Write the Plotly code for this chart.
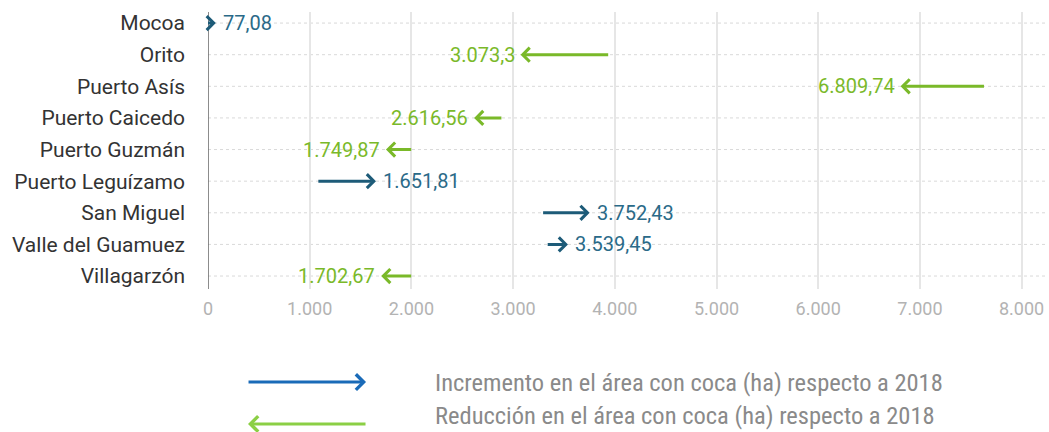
import plotly.graph_objects as go

municipios = ["Mocoa", "Orito", "Puerto Asís", "Puerto Caicedo", "Puerto Guzmán",
              "Puerto Leguízamo", "San Miguel", "Valle del Guamuez", "Villagarzón"]
area_2018 = [0, 3935, 7630, 2885, 1998, 1085, 3295, 3340, 1998]
area_2019 = [77.08, 3073.3, 6809.74, 2616.56, 1749.87, 1651.81, 3752.43, 3539.45, 1702.67]
labels_2019 = ["77,08", "3.073,3", "6.809,74", "2.616,56", "1.749,87",
               "1.651,81", "3.752,43", "3.539,45", "1.702,67"]
x_ticks = [0, 1000, 2000, 3000, 4000, 5000, 6000, 7000, 8000]
x_tick_labels = ["0", "1.000", "2.000", "3.000", "4.000", "5.000", "6.000", "7.000", "8.000"]
legend_labels = ["Incremento en el área con coca (ha) respecto a 2018",
                 "Reducción en el área con coca (ha) respecto a 2018"]

UP_LINE = "#1d5b78"
UP_TEXT = "#2a6a88"
DOWN = "#7ab929"

rows = list(range(len(municipios)))

fig = go.Figure()
fig.add_trace(go.Scatter(x=area_2019, y=rows, mode="markers",
                         marker=dict(opacity=0), hoverinfo="skip", showlegend=False))

for r in rows:
    fig.add_shape(type="line", xref="paper", yref="y", x0=0, x1=1, y0=r, y1=r,
                  line=dict(color="#d9d9d9", width=1, dash="dot"), layer="below")

annotations = []
for r, (a, b, lab) in enumerate(zip(area_2018, area_2019, labels_2019)):
    up = b > a
    col = UP_LINE if up else DOWN
    annotations.append(dict(
        x=b, y=r, ax=a, ay=r, xref="x", yref="y", axref="x", ayref="y",
        showarrow=True, arrowhead=4, arrowsize=0.9, arrowwidth=3,
        arrowcolor=col, text="", font=dict(size=1), borderpad=0, borderwidth=0,
        standoff=0, startstandoff=0))
    annotations.append(dict(
        x=b, y=r, xref="x", yref="y", showarrow=False, text=lab,
        xanchor="left" if up else "right", xshift=5 if up else -4, yshift=0,
        font=dict(family="Roboto, sans-serif", size=20,
                  color=UP_TEXT if up else DOWN)))

leg_cols = ["#1a6bb8", "#8bcf45"]
leg_arrow_y = [-0.336, -0.487]
leg_text_y = [-0.336, -0.455]
for i, (txt, c) in enumerate(zip(legend_labels, leg_cols)):
    if i == 0:
        x_head, dx = 0.1888, -118
    else:
        x_head, dx = 0.0478, 118
    annotations.append(dict(
        x=x_head, y=leg_arrow_y[i], ax=dx, ay=0, xref="paper", yref="paper",
        showarrow=True, arrowhead=4, arrowsize=1.0,
        arrowwidth=3, arrowcolor=c, text="", font=dict(size=1), borderpad=0,
        standoff=0))
    annotations.append(dict(
        x=0.2688, y=leg_text_y[i], xref="paper", yref="paper",
        showarrow=False, text=txt, xanchor="left", yanchor="middle",
        font=dict(family="Liberation Sans Narrow, Roboto Condensed, Arial Narrow, sans-serif",
                  size=24.5, color="#8a8a8a")))

fig.update_layout(
    width=1049, height=432,
    margin=dict(l=208, r=4, t=12, b=143),
    paper_bgcolor="white", plot_bgcolor="white",
    showlegend=False,
    annotations=annotations,
    xaxis=dict(range=[0, 8230], tickvals=x_ticks, ticktext=x_tick_labels,
               showgrid=True, gridcolor="#e6e6e6", gridwidth=1.5, zeroline=False,
               showline=False, ticks="", ticklabelstandoff=7,
               tickfont=dict(family="Roboto, sans-serif", size=18, color="#b3b3b3")),
    yaxis=dict(range=[8.41, -0.35], tickvals=rows, ticktext=municipios,
               showgrid=False, zeroline=False, showline=False, ticks="",
               ticklabelstandoff=22,
               tickfont=dict(family="Roboto, sans-serif", size=21, color="#333333")),
)
fig.add_shape(type="line", xref="x", yref="paper", x0=0, x1=0, y0=0, y1=1,
              line=dict(color="#666666", width=1.5))

fig.write_html("out.html", config={"displayModeBar": False},
               post_script="document.body.style.margin='0';document.body.style.overflow='hidden';")
